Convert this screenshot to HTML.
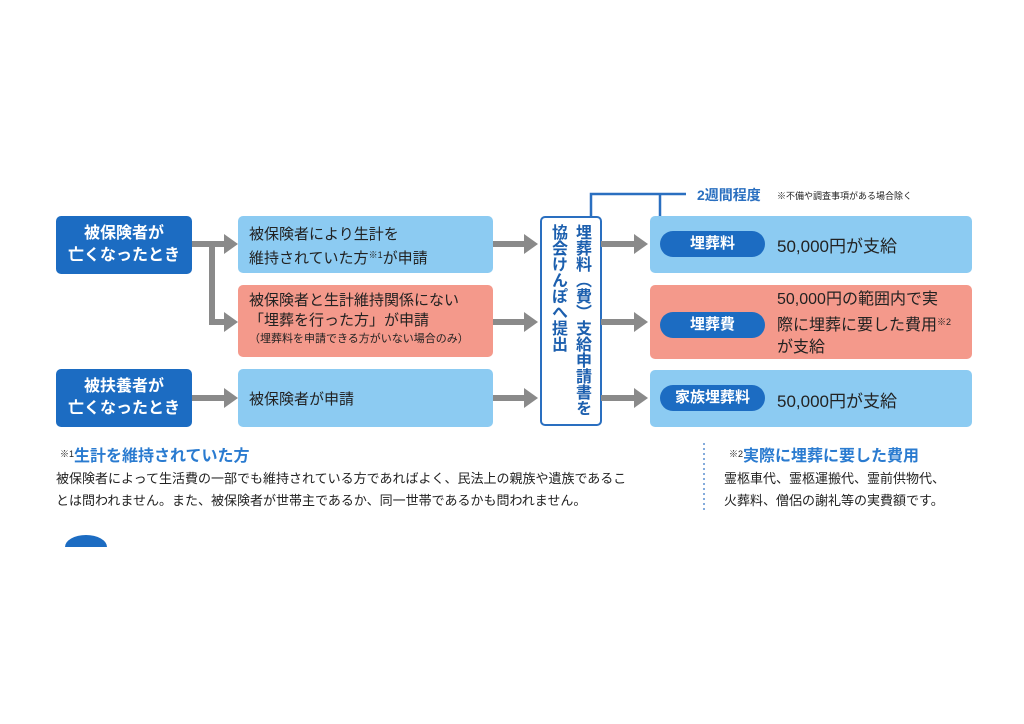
<!DOCTYPE html>
<html><head><meta charset="utf-8"><style>
body{margin:0;width:1024px;height:724px;background:#fff;position:relative;overflow:hidden;font-family:"Liberation Sans","Noto Sans CJK JP",sans-serif;}
.b{position:absolute;box-sizing:border-box;border-radius:5px;}
.dk{background:#1c6cc2;color:#fff;font-size:16px;line-height:22px;text-align:center;padding-top:7px;font-weight:bold;}
.lt{background:#8ccbf2;color:#222;font-size:15px;}
.sm{background:#f4998b;color:#222;font-size:15px;}
.pill{position:absolute;left:10px;width:105px;height:26px;border-radius:13px;background:#1c6cc2;color:#fff;font-size:15px;line-height:26px;text-align:center;font-weight:bold;}
.t{position:absolute;color:#222;}
sup{font-size:9px;vertical-align:5px;}
</style></head><body>
<div class="b dk" style="left:56px;top:216px;width:136px;height:58px;">被保険者が<br>亡くなったとき</div>
<div class="b dk" style="left:56px;top:369px;width:136px;height:58px;">被扶養者が<br>亡くなったとき</div>
<div class="b lt" style="left:238px;top:216px;width:255px;height:57px;padding:9px 0 0 11px;line-height:20px;">被保険者により生計を<br>維持されていた方<sup>※1</sup>が申請</div>
<div class="b sm" style="left:238px;top:285px;width:255px;height:72px;padding:6px 0 0 11px;line-height:20px;">被保険者と生計維持関係にない<br>「埋葬を行った方」が申請<br><span style="font-size:11px;line-height:16px;display:block">（埋葬料を申請できる方がいない場合のみ）</span></div>
<div class="b lt" style="left:238px;top:369px;width:255px;height:58px;padding:19px 0 0 11px;">被保険者が申請</div>
<div class="b" style="left:540px;top:216px;width:62px;height:210px;border:2px solid #2a6fc0;background:#fff;"></div>
<div class="t" style="left:571px;top:224px;width:20px;font-size:16px;line-height:19px;color:#1c5fae;writing-mode:vertical-rl;font-weight:bold;">埋葬料︵費︶支給申請書を</div>
<div class="t" style="left:547px;top:224px;width:20px;font-size:16px;line-height:19px;color:#1c5fae;writing-mode:vertical-rl;font-weight:bold;">協会けんぽへ提出</div>
<div class="b lt" style="left:650px;top:216px;width:322px;height:57px;"><div class="pill" style="top:15px;">埋葬料</div><div class="t" style="left:127px;top:16px;font-size:17px;">50,000円が支給</div></div>
<div class="b sm" style="left:650px;top:285px;width:322px;height:74px;"><div class="pill" style="top:27px;">埋葬費</div><div class="t" style="left:127px;top:4px;font-size:16px;line-height:22px;">50,000円の範囲内で実<br>際に埋葬に要した費用<sup>※2</sup><br>が支給</div></div>
<div class="b lt" style="left:650px;top:370px;width:322px;height:57px;"><div class="pill" style="top:15px;">家族埋葬料</div><div class="t" style="left:127px;top:17px;font-size:17px;">50,000円が支給</div></div>
<svg style="position:absolute;left:0;top:0" width="1024" height="724">
<g fill="none" stroke="#8a8a8a" stroke-width="6">
<path d="M192 244H226M212 244V322H226M192 398H226M493 244H526M493 322H526M493 398H526M601 244H636M601 322H636M601 398H636"/>
</g>
<g fill="#8a8a8a">
<path d="M224 234L238 244L224 254Z"/><path d="M224 312L238 322L224 332Z"/><path d="M224 388L238 398L224 408Z"/>
<path d="M524 234L538 244L524 254Z"/><path d="M524 312L538 322L524 332Z"/><path d="M524 388L538 398L524 408Z"/>
<path d="M634 234L648 244L634 254Z"/><path d="M634 312L648 322L634 332Z"/><path d="M634 388L648 398L634 408Z"/>
</g>
<path d="M591 216V194H686M660 194V216" fill="none" stroke="#2a6fc0" stroke-width="2.5"/>
<line x1="704" y1="443" x2="704" y2="512" stroke="#5a8fd0" stroke-width="1.5" stroke-dasharray="2,3"/>
<path d="M65 547A21 12 0 0 1 107 547Z" fill="#1c6cc2"/>
</svg>
<div class="t" style="left:697px;top:185px;font-size:14px;color:#2a6fc0;font-weight:bold;">2週間程度</div>
<div class="t" style="left:777px;top:189px;font-size:9px;">※不備や調査事項がある場合除く</div>
<div class="t" style="left:60px;top:442px;font-size:16px;color:#2a7bd0;font-weight:bold;"><span style="font-size:9px;color:#222;vertical-align:4px;font-weight:normal;">※1</span>生計を維持されていた方</div>
<div class="t" style="left:56px;top:468px;font-size:13px;line-height:22px;">被保険者によって生活費の一部でも維持されている方であればよく、民法上の親族や遺族であるこ<br>とは問われません。また、被保険者が世帯主であるか、同一世帯であるかも問われません。</div>
<div class="t" style="left:729px;top:442px;font-size:16px;color:#2a7bd0;font-weight:bold;"><span style="font-size:9px;color:#222;vertical-align:4px;font-weight:normal;">※2</span>実際に埋葬に要した費用</div>
<div class="t" style="left:724px;top:468px;font-size:13px;line-height:22px;">霊柩車代、霊柩運搬代、霊前供物代、<br>火葬料、僧侶の謝礼等の実費額です。</div>
</body></html>
